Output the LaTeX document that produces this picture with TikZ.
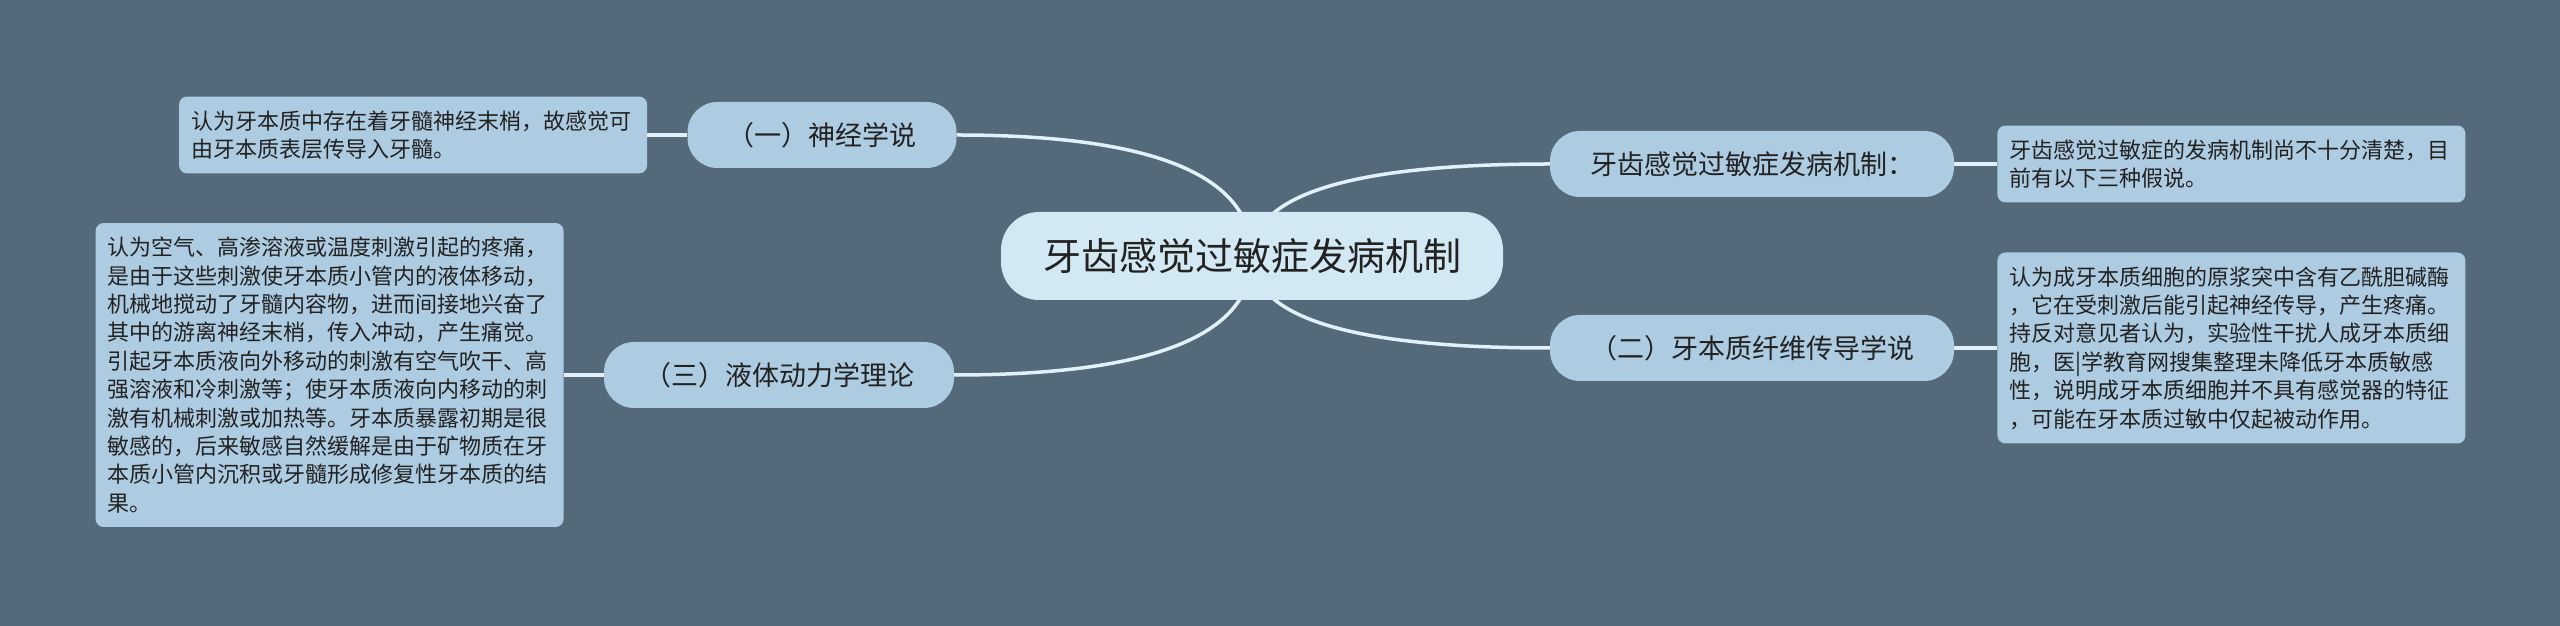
\documentclass[tikz,border=0pt]{standalone}
\usepackage{fontspec}
\setmainfont{Noto Sans CJK SC}
\usepackage{xcolor}
\usepackage{tikz}
\usetikzlibrary{shapes,positioning,calc,backgrounds}

\definecolor{bgcol}{RGB}{84,106,122}
\definecolor{rootfill}{RGB}{210,232,243}
\definecolor{topicfill}{RGB}{173,203,225}
\definecolor{linecol}{RGB}{226,241,249}
\definecolor{textcol}{RGB}{34,34,34}

\begin{document}
\begin{tikzpicture}[
    x=1pt, y=1pt,
    root/.style={rectangle, rounded corners=38pt, fill=rootfill, text=textcol, minimum height=88pt, inner xsep=42pt, font=\fontsize{38}{44}\selectfont},
    topic/.style={rectangle, rounded corners=30pt, fill=topicfill, text=textcol, minimum height=66pt, inner xsep=40pt, font=\fontsize{27}{32}\selectfont},
    note/.style={rectangle, rounded corners=8pt, fill=topicfill, text=textcol, text width=444pt, inner xsep=12pt, inner ysep=14pt, align=left, font=\fontsize{22}{28.4}\selectfont},
    link/.style={draw=linecol, line width=3.5pt}
]
\useasboundingbox (0,0) rectangle (2560,626);

\node[root] (root) at (1252,370) {牙齿感觉过敏症发病机制};

\node[topic] (nerve) at (822,491) {（一）神经学说};
\node[topic] (fluid) at (779,251) {（三）液体动力学理论};
\node[topic] (mech) at (1752,462) {牙齿感觉过敏症发病机制：};
\node[topic] (fiber) at (1752,278) {（二）牙本质纤维传导学说};

\node[note, left=40pt of nerve] (nervenote) {认为牙本质中存在着牙髓神经末梢，故感觉可\\由牙本质表层传导入牙髓。};
\node[note, left=40pt of fluid] (fluidnote) {认为空气、高渗溶液或温度刺激引起的疼痛，\\是由于这些刺激使牙本质小管内的液体移动，\\机械地搅动了牙髓内容物，进而间接地兴奋了\\其中的游离神经末梢，传入冲动，产生痛觉。\\引起牙本质液向外移动的刺激有空气吹干、高\\强溶液和冷刺激等；使牙本质液向内移动的刺\\激有机械刺激或加热等。牙本质暴露初期是很\\敏感的，后来敏感自然缓解是由于矿物质在牙\\本质小管内沉积或牙髓形成修复性牙本质的结\\果。};
\node[note, right=43pt of mech] (mechnote) {牙齿感觉过敏症的发病机制尚不十分清楚，目\\前有以下三种假说。};
\node[note, right=43pt of fiber] (fibernote) {认为成牙本质细胞的原浆突中含有乙酰胆碱酶\\，它在受刺激后能引起神经传导，产生疼痛。\\持反对意见者认为，实验性干扰人成牙本质细\\胞，医|学教育网搜集整理未降低牙本质敏感\\性，说明成牙本质细胞并不具有感觉器的特征\\，可能在牙本质过敏中仅起被动作用。};

\begin{scope}[on background layer]
\fill[bgcol] (0,0) rectangle (2560,626);
% curved branches from the centre
\foreach \nd/\side in {nerve/east, fluid/east, mech/west, fiber/west}
  \draw[link] (root.center) .. controls ($(root.center)!.667!(root.center |- \nd.\side)$) and ($(\nd.\side)!.667!(root.center |- \nd.\side)$) .. (\nd.\side);
% straight links to the notes
\draw[link] (nerve) -- (nervenote);
\draw[link] (fluid) -- (fluidnote);
\draw[link] (mech) -- (mechnote);
\draw[link] (fiber) -- (fibernote);
\end{scope}
\end{tikzpicture}
\end{document}
